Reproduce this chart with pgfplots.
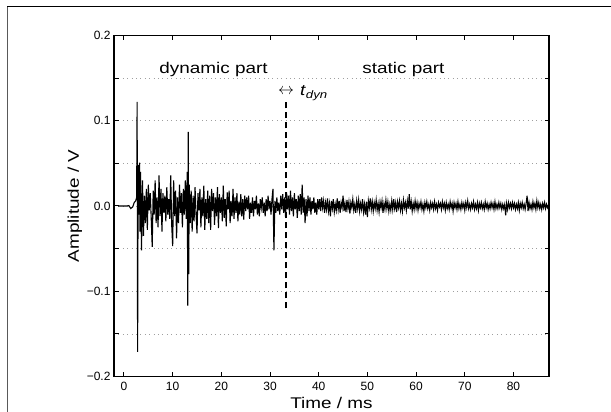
\documentclass[border=0pt]{standalone}
\usepackage{graphicx}
\usepackage{fontspec}
\setmainfont{Liberation Sans}
\newfontfamily\widefont[FakeStretch=1.22]{Liberation Sans}
\usepackage{pgfplots}
\pgfplotsset{compat=1.18}
\begin{document}
\begin{tikzpicture}
\useasboundingbox (0pt,0pt) rectangle (611pt,412pt);
% figure frame (left and top edges only are visible)
\draw[gray!70!black, line width=1.6pt] (7.5pt,-2pt) -- (7.5pt,406pt);
\draw[black, line width=0.8pt] (7pt,406pt) -- (615pt,406pt);
\begin{axis}[
  at={(114pt,35.5pt)}, anchor=south west,
  scale only axis, width=435pt, height=341pt,
  xmin=-2.05, xmax=87.3,
  ymin=-0.2, ymax=0.2,
  xtick={0,10,...,80},
  ytick={-0.2,-0.1,0,0.1,0.2},
  yticklabels={−0.2,−0.1,0.0,0.1,0.2},
  minor ytick={-0.15,-0.05,0.05,0.15},
  ymajorgrids, yminorgrids,
  grid style={gray!75, line width=0.7pt, dash pattern=on 0.8pt off 3.6pt},
  minor grid style={gray!75, line width=0.7pt, dash pattern=on 0.8pt off 3.6pt},
  major tick length=4.5pt, minor tick length=4.5pt,
  tick style={black, line width=1pt},
  axis line style={line width=1.6pt},
  /pgf/number format/assume math mode=true,
  tick label style={font=\fontsize{12}{13}\selectfont},
  xticklabel style={yshift=-2pt},
  xlabel={Time / ms},
  ylabel={Amplitude / V},
  label style={font=\widefont\fontsize{15.5}{16}\selectfont},
  xlabel style={at={(axis description cs:0.5,-0.094)}, anchor=base},
  ylabel style={at={(axis description cs:-0.0897,0.5)}, anchor=center},
  clip=true,
]
\addplot[black, line width=1.1pt] coordinates {
(-1.2,0) (0.6,0) (1.0,0.0005) (1.4,-0.003) (1.8,-0.001) (2.1,0.004) (2.4,0.006) (2.6,0.010)
(2.7,0.122) (2.8,-0.171) (2.9,0.020) (3.0,0.048) (3.1,-0.010) (3.2,0.051) (3.3,-0.030) (3.4,0.040)
(3.6,-0.052) (3.8,0.030) (4.0,-0.035) (4.2,0.012) (4.4,-0.020) (4.6,0.020) (4.8,-0.028) (5.0,0.025)
(5.2,-0.005) (5.4,0.015) (5.6,-0.015) (5.8,-0.048) (6.0,0.018) (6.2,-0.010) (6.4,0.030) (6.6,-0.020)
(6.8,0.010) (7.0,-0.025) (7.2,0.036) (7.4,-0.012) (7.6,0.020) (7.8,-0.030) (8.0,0.015) (8.2,-0.008)
(8.4,0.012) (8.6,-0.018) (8.8,0.022) (9.0,-0.010) (9.2,0.008) (9.4,-0.015) (9.6,0.036) (9.8,-0.022)
(10.0,-0.047) (10.2,0.030) (10.4,-0.012) (10.6,0.018) (10.8,-0.038) (11.0,0.010) (11.2,-0.020) (11.4,0.025)
(11.6,-0.008) (11.8,0.015) (12.0,-0.025) (12.2,0.020) (12.4,-0.010) (12.6,0.030) (12.8,-0.015) (13.0,0.040)
(13.1,-0.117) (13.2,0.087) (13.3,-0.080) (13.4,0.025) (13.6,-0.020) (13.8,0.018) (14.0,-0.030)
(14.2,0.012) (14.4,-0.018) (14.6,0.022) (14.8,-0.010) (15.0,-0.032) (15.2,0.015) (15.4,-0.005) (15.6,0.020)
(15.8,-0.025) (16.0,0.010) (16.2,-0.012) (16.4,0.024) (16.6,-0.028) (16.8,0.008) (17.0,-0.015) (17.2,0.018)
(17.4,-0.020) (17.6,0.012) (17.8,-0.028) (18.0,0.020) (18.2,-0.006) (18.4,0.015) (18.6,-0.022) (18.8,0.010)
(19.0,-0.012) (19.2,0.022) (19.4,-0.026) (19.6,0.014) (19.8,-0.008) (20.0,0.010) (20.2,-0.018) (20.4,0.024)
(20.6,-0.014) (20.8,0.008) (21.0,-0.024) (21.2,0.016) (21.4,-0.004) (21.6,0.018) (21.8,-0.020) (22.0,0.006)
(22.2,-0.012) (22.4,0.020) (22.6,-0.015) (22.8,0.010) (23.0,-0.008) (23.2,0.015) (23.4,-0.018) (23.6,0.005)
(23.8,-0.010) (24.0,0.014) (24.2,-0.012) (24.4,0.008) (24.6,-0.016) (24.8,0.012) (25.0,-0.006)
(25.2,0.010) (25.4,-0.004) (25.6,0.012) (25.8,-0.015) (26.0,0.004) (26.2,-0.008) (26.4,0.010) (26.6,-0.012)
(26.8,0.006) (27.0,-0.004) (27.2,0.012) (27.4,-0.010) (27.6,0.003) (27.8,-0.012) (28.0,0.008) (28.2,-0.002)
(28.4,0.010) (28.6,-0.008) (28.8,0.004) (29.0,-0.012) (29.2,0.008) (29.4,-0.006) (29.6,0.012) (29.8,-0.004)
(30.0,0.006) (30.2,-0.010) (30.4,0.008) (30.6,0.020) (30.8,-0.052) (31.0,0.006) (31.2,-0.008) (31.4,0.010)
(31.6,-0.006) (31.8,0.004) (32.0,-0.010) (32.2,0.012) (32.4,-0.004) (32.6,0.014) (32.8,-0.008) (33.0,0.010)
(33.2,-0.014) (33.4,0.016) (33.6,-0.004) (33.8,0.012) (34.0,-0.010) (34.2,0.018) (34.4,-0.006) (34.6,0.010)
(34.8,-0.012) (35.0,0.015) (35.2,-0.004) (35.4,0.008) (35.6,-0.014) (35.8,0.012) (36.0,-0.006) (36.2,0.014)
(36.4,-0.010) (36.6,0.025) (36.8,-0.008) (37.0,0.010) (37.2,-0.020) (37.4,0.008) (37.6,-0.012) (37.8,0.012)
(38.0,-0.006) (38.2,0.010) (38.4,-0.010) (38.6,0.006) (38.8,-0.004) (39.0,0.010) (39.2,-0.008) (39.4,0.004)
(39.6,-0.010) (39.8,0.008) (40.0,-0.004)
(40.2,0.008) (40.4,-0.006) (40.6,0.010) (40.8,-0.002) (41.0,0.006) (41.2,-0.008) (41.4,0.004) (41.6,-0.004)
(41.8,0.009) (42.0,-0.006) (42.2,0.003) (42.4,-0.012) (42.6,0.006) (42.8,-0.003) (43.0,0.008) (43.2,-0.007)
(43.4,0.002) (43.6,-0.005) (43.8,0.009) (44.0,-0.004) (44.2,0.006) (44.4,-0.008) (44.6,0.004) (44.8,-0.002)
(45.0,0.012) (45.2,-0.006) (45.4,0.003) (45.6,-0.007) (45.8,0.007) (46.0,-0.003) (46.2,0.005) (46.4,-0.009)
(46.6,0.004) (46.8,-0.002) (47.0,0.008) (47.2,-0.005) (47.4,0.002) (47.6,-0.008) (47.8,0.006) (48.0,-0.003)
(48.2,0.007) (48.4,-0.006) (48.6,0.003) (48.8,-0.004) (49.0,0.008) (49.2,-0.007) (49.4,0.002) (49.6,-0.010)
(49.8,0.005) (50.0,-0.013) (50.2,0.006) (50.4,-0.002) (50.6,0.009) (50.8,-0.004) (51.0,0.005) (51.2,-0.006)
(51.4,0.004) (51.6,-0.003) (51.8,0.007) (52.0,-0.005) (52.2,0.003) (52.4,-0.007) (52.6,0.005) (52.8,-0.002)
(53.0,0.006) (53.2,-0.008) (53.4,0.003) (53.6,-0.004) (53.8,0.007) (54.0,-0.003) (54.2,0.005) (54.4,-0.006)
(54.6,0.002) (54.8,-0.005) (55.0,0.006) (55.2,-0.004) (55.4,0.008) (55.6,-0.003) (55.8,0.004) (56.0,-0.007)
(56.2,0.005) (56.4,-0.002) (56.6,0.006) (56.8,-0.005) (57.0,0.003) (57.2,-0.006) (57.4,0.007) (57.6,-0.002)
(57.8,0.004) (58.0,-0.005) (58.2,0.006) (58.4,-0.003) (58.6,0.014) (58.8,-0.004) (59.0,0.005) (59.2,-0.006)
(59.4,0.003) (59.6,-0.004) (59.8,0.006) (60.0,-0.003)
(60.2,0.004) (60.4,-0.005) (60.6,0.003) (60.8,-0.002) (61.0,0.005) (61.2,-0.004) (61.4,0.002) (61.6,-0.006)
(61.8,0.004) (62.0,-0.002) (62.2,0.005) (62.4,-0.003) (62.6,0.002) (62.8,-0.005) (63.0,0.004) (63.2,-0.002)
(63.4,0.003) (63.6,-0.004) (63.8,0.005) (64.0,-0.003) (64.2,0.002) (64.4,-0.005) (64.6,0.004) (64.8,-0.001)
(65.0,0.003) (65.2,-0.004) (65.4,0.005) (65.6,-0.002) (65.8,0.003) (66.0,-0.005) (66.2,0.004) (66.4,-0.003)
(66.6,0.002) (66.8,-0.004) (67.0,0.005) (67.2,-0.002) (67.4,0.003) (67.6,-0.006) (67.8,0.004) (68.0,-0.002)
(68.2,0.003) (68.4,-0.004) (68.6,0.005) (68.8,-0.003) (69.0,0.002) (69.2,-0.004) (69.4,0.004) (69.6,-0.002)
(69.8,0.003) (70.0,-0.005) (70.2,0.004) (70.4,-0.002) (70.6,0.006) (70.8,-0.003) (71.0,0.002) (71.2,-0.004)
(71.4,0.003) (71.6,-0.002) (71.8,0.005) (72.0,-0.004) (72.2,0.002) (72.4,-0.003) (72.6,0.004) (72.8,-0.005)
(73.0,0.003) (73.2,-0.002) (73.4,0.004) (73.6,-0.003) (73.8,0.002) (74.0,-0.004) (74.2,0.005) (74.4,-0.002)
(74.6,0.003) (74.8,-0.004) (75.0,0.002) (75.2,-0.003) (75.4,0.004) (75.6,-0.002) (75.8,0.003) (76.0,-0.004)
(76.2,0.005) (76.4,-0.003) (76.6,0.002) (76.8,-0.003) (77.0,0.004) (77.2,-0.002) (77.4,0.003) (77.6,-0.004)
(77.8,0.002) (78.0,-0.003) (78.2,0.002) (78.4,-0.011) (78.6,0.003) (78.8,-0.004) (79.0,0.004) (79.2,-0.002)
(79.4,0.003) (79.6,-0.003) (79.8,0.004) (80.0,-0.002) (80.2,0.003) (80.4,-0.004) (80.6,0.002) (80.8,-0.003)
(81.0,0.004) (81.2,-0.005) (81.4,0.003) (81.6,-0.002) (81.8,0.004) (82.0,-0.003) (82.2,0.002) (82.4,-0.004)
(82.6,0.003) (82.8,0.012) (83.0,-0.006) (83.2,0.004) (83.4,-0.003) (83.6,0.002) (83.8,-0.004) (84.0,0.005)
(84.2,-0.002) (84.4,0.003) (84.6,-0.004) (84.8,0.006) (85.0,-0.002) (85.2,0.004) (85.4,-0.003) (85.6,0.002)
(85.8,-0.004) (86.0,0.003) (86.2,-0.002) (86.4,0.004) (86.6,-0.003) (86.8,0.002) (87.0,-0.002) (87.2,0.001)
};
% boundary between dynamic and static part
\addplot[black, line width=1.5pt, dash pattern=on 6pt off 4pt] coordinates {(33.3,-0.12) (33.3,0.124)};
\node[font=\widefont\fontsize{15.5}{16}\selectfont] at (axis cs:18.4,0.160) {dynamic part};
\node[font=\widefont\fontsize{15.5}{16}\selectfont] at (axis cs:57.4,0.160) {static part};
\node[font=\widefont\fontsize{15.5}{16}\selectfont, anchor=base west, inner sep=0pt] at (axis cs:31.6,0.1296) {\raisebox{1pt}{\resizebox{16pt}{!}{$\leftrightarrow$}}\hspace{6pt}\textit{t}\textsubscript{\textit{dyn}}};
\end{axis}
\end{tikzpicture}
\end{document}
